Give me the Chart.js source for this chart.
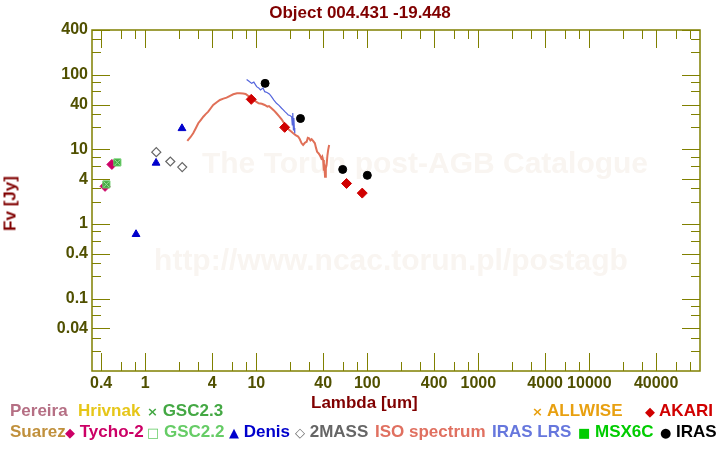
<!DOCTYPE html>
<html>
<head>
<meta charset="utf-8">
<script src="https://cdn.jsdelivr.net/npm/chart.js@4.4.1/dist/chart.umd.min.js"></script>
<style>
body { margin: 0; background: #fff; }
#wrap { position: relative; width: 720px; height: 450px; font-family: "Liberation Sans", Arial, sans-serif; font-weight: bold; }
#sed { position: absolute; left: 0; top: 0; }
.t { position: absolute; white-space: nowrap; font-size: 17px; line-height: 17px; }
.s { font-family: "DejaVu Sans", sans-serif; font-size: 13px; }
</style>
</head>
<body>
<div id="wrap">
  <canvas id="sed" width="720" height="450"></canvas>
  <div class="t" style="left:0;width:720px;text-align:center;top:4px;color:#800000">Object 004.431 -19.448</div>
  <div class="t" style="left:311px;top:394px;color:#800000">Lambda [um]</div>
  <div class="t" style="left:-18px;top:195px;width:56px;text-align:center;color:#800000;transform:rotate(-90deg)">Fv [Jy]</div>
</div>
<script>
// photometry, wavelength [um] / flux [Jy]
var tycho2 = [[0.50, 6.3], [0.434, 3.2]];
var gsc22 = [[0.56, 6.7], [0.446, 3.4]];
var gsc23 = [[0.56, 6.7], [0.446, 3.4]];
var denis = [[0.825, 0.73], [1.25, 6.6], [2.14, 19.2]];
var twomass = [[1.256, 9.2], [1.68, 6.9], [2.15, 5.8]];
var akari = [[9, 47], [18, 19.8], [65, 3.5], [90, 2.6]];
var iras = [[12, 77], [25, 26], [60, 5.4], [100, 4.5]];

// spectra
var isoSpectrum = [[2.39,13.0],[2.55,14.6],[2.70,16.5],[2.85,19.3],[3.00,22.5],[3.17,25.0],[3.33,27.5],[3.5,29.8],
  [3.69,32.1],[3.9,36.0],[4.09,39.5],[4.4,43.0],[4.70,46.1],[5.05,48.0],[5.40,49.5],[5.8,52.5],[6.20,55.0],
  [6.7,56.6],[7.12,56.6],[7.6,56.2],[8.01,55.5],[8.5,52.0],[9.07,48.5],[9.8,44.5],[10.5,41.6],[11.2,41.0],
  [11.9,39.5],[12.6,37.5],[13.0,38.2],[13.7,35.7],[14.4,33.4],[15.2,30.6],[16.0,28.0],[16.9,25.4],[17.8,22.5],
  [18.7,20.2],[19.6,18.5],[20.5,17.5],[21.5,16.5],[22.6,15.6],[23.8,14.9],[24.6,13.8],[25.6,12.1],[26.4,11.5],
  [27.4,12.3],[28.4,12.7],[29.1,14.3],[29.9,14.1],[30.7,13.2],[31.5,13.7],[32.6,12.9],[33.7,12.1],[34.5,10.5],
  [35.3,9.3],[36.3,8.9],[37.3,8.4],[38.5,7.6],[39.3,8.0],[40.0,7.2],[40.6,5.2],[41.0,6.4],[41.6,4.3],[42.3,5.6],
  [43.0,6.2],[43.7,8.3],[44.4,9.9],[45.3,11.5]];
var irasLrs = [[8.18,87],[8.6,82],[9.07,77],[9.5,80],[10.07,69.5],[10.5,67],[10.9,62.8],[11.5,66.7],[11.9,59.6],
  [12.5,58],[13.1,55.5],[13.7,51.0],[14.4,46],[15.2,41.6],[16.0,39],[16.9,35.7],[17.5,34],[18.1,32.1],[18.8,30.5],
  [19.4,29.0],[20.1,28.5],[20.8,27.5],[21.1,21.3],[21.3,30.9],[21.6,18.3],[21.8,26.4],[22.0,19.4],[22.2,16.5]];

// axes
var xMin = 0.331, xMax = 99300;
var yMin = 0.0107, yMax = 400;
var xLabelValues = [0.4, 1, 4, 10, 40, 100, 400, 1000, 4000, 10000, 40000];
var xLabelText = ['0.4', '1', '4', '10', '40', '100', '400', '1000', '4000', '10000', '40000'];
var yLabelValues = [0.04, 0.1, 0.4, 1, 4, 10, 40, 100, 400];
var yLabelText = ['0.04', '0.1', '0.4', '1', '4', '10', '40', '100', '400'];
var tickSteps = [1, 2, 3, 4, 6, 8];
var majorSteps = [1, 4];

// legend (text, colour, symbol)
var legendRows = [
  [['Pereira', '#b56f84', '', 10], ['Hrivnak', '#e6c619', '', 78], ['GSC2.3', '#44a844', '\u00d7', 147],
   ['ALLWISE', '#e8a010', '\u00d7', 532], ['AKARI', '#d00000', '\u25c6', 645]],
  [['Suarez', '#c0903c', '', 10], ['Tycho-2', '#cc0066', '\u25c6', 65], ['GSC2.2', '#66cc66', '\u25a1', 147],
   ['Denis', '#0000cc', '\u25b2', 229], ['2MASS', '#666666', '\u25c7', 295], ['ISO spectrum', '#e07060', '', 375],
   ['IRAS LRS', '#6677dd', '', 492], ['MSX6C', '#00cc00', '\u25a0', 578], ['IRAS', '#000000', '\u25cf', 660]]
];

var wrap = document.getElementById('wrap');
legendRows.forEach(function(row, r) {
  row.forEach(function(item) {
    var d = document.createElement('div');
    d.className = 't';
    d.style.left = item[3] + 'px';
    d.style.top = (r == 0 ? 402 : 423) + 'px';
    d.style.color = item[1];
    d.innerHTML = (item[2] ? '<span class="s">' + item[2] + '</span> ' : '') + item[0];
    wrap.appendChild(d);
  });
});

function pts(arr) {
  return arr.map(function(p) { return {x: p[0], y: p[1]}; });
}

function tickList(min, max) {
  var out = [];
  for (var e = -3; e <= 6; e++) {
    tickSteps.forEach(function(s) {
      var v = s * Math.pow(10, e);
      if (v >= min && v <= max) out.push({v: v, major: majorSteps.indexOf(s) >= 0});
    });
  }
  return out;
}

var frame = {
  id: 'frame',
  beforeDatasetsDraw: function(chart) {
    var ctx = chart.ctx;
    ctx.save();
    ctx.fillStyle = '#f9f5f1';
    ctx.textAlign = 'center';
    ctx.textBaseline = 'middle';
    ctx.font = 'bold 30px "Liberation Sans", Arial, sans-serif';
    ctx.fillText('The Torun post-AGB Catalogue', 425, 165);
    ctx.fillText('http://www.ncac.torun.pl/postagb', 391, 262);
    ctx.restore();
  },
  afterDraw: function(chart) {
    var ctx = chart.ctx, a = chart.chartArea;
    var x = chart.scales.x, y = chart.scales.y;
    ctx.save();
    ctx.strokeStyle = '#808000';
    ctx.lineWidth = 1.5;
    ctx.strokeRect(a.left, a.top, a.right - a.left, a.bottom - a.top);
    ctx.lineWidth = 1;
    ctx.beginPath();
    tickList(xMin, xMax).forEach(function(t) {
      var px = Math.round(x.getPixelForValue(t.v)) + 0.5;
      var len = t.major ? 18 : 9;
      ctx.moveTo(px, a.bottom); ctx.lineTo(px, a.bottom - len);
      ctx.moveTo(px, a.top); ctx.lineTo(px, a.top + len);
    });
    tickList(yMin, yMax).forEach(function(t) {
      var py = Math.round(y.getPixelForValue(t.v)) + 0.5;
      var len = t.major ? 18 : 9;
      ctx.moveTo(a.left, py); ctx.lineTo(a.left + len, py);
      ctx.moveTo(a.right, py); ctx.lineTo(a.right - len, py);
    });
    ctx.stroke();
    ctx.restore();
  }
};

var tickFont = {family: '"Liberation Sans", Arial, sans-serif', size: 16, weight: 'bold'};

var ctx = document.getElementById('sed').getContext('2d');
var sedChart = new Chart(ctx, {
  type: 'scatter',
  data: {
    datasets: [
      {label: 'GSC2.3', data: pts(gsc23), pointStyle: 'crossRot', pointRadius: 4, borderColor: '#99dd99', borderWidth: 1},
      {label: 'IRAS', data: pts(iras), pointStyle: 'circle', pointRadius: 4, backgroundColor: '#000', borderColor: '#000', borderWidth: 1},
      {label: 'AKARI', data: pts(akari), pointStyle: 'rectRot', pointRadius: 5, backgroundColor: '#d00000', borderColor: '#d00000', borderWidth: 1},
      {label: '2MASS', data: pts(twomass), pointStyle: 'rectRot', pointRadius: 4.5, backgroundColor: '#fff', borderColor: '#666666', borderWidth: 1.2},
      {label: 'Denis', data: pts(denis), pointStyle: 'triangle', pointRadius: 4.5, backgroundColor: '#0000cc', borderColor: '#0000cc', borderWidth: 1},
      {label: 'GSC2.2', data: pts(gsc22), pointStyle: 'rect', pointRadius: 5, backgroundColor: '#44aa44', borderColor: '#66cc66', borderWidth: 1},
      {label: 'Tycho-2', data: pts(tycho2), pointStyle: 'rectRot', pointRadius: 5, backgroundColor: '#cc0066', borderColor: '#cc0066', borderWidth: 1},
      {label: 'IRAS LRS', data: pts(irasLrs), showLine: true, pointRadius: 0, borderColor: '#5566dd', borderWidth: 1.2},
      {label: 'ISO spectrum', data: pts(isoSpectrum), showLine: true, pointRadius: 0, borderColor: '#e07058', borderWidth: 2}
    ]
  },
  options: {
    responsive: false,
    animation: false,
    layout: {padding: {top: 30, right: 20, left: 0, bottom: 0}},
    plugins: {legend: {display: false}, tooltip: {enabled: false}},
    scales: {
      x: {
        type: 'logarithmic', min: xMin, max: xMax, bounds: 'data',
        grid: {display: false, drawTicks: false}, border: {display: false},
        afterBuildTicks: function(s) { s.ticks = xLabelValues.map(function(v) { return {value: v}; }); },
        afterFit: function(s) { s.height = 79; },
        ticks: {autoSkip: false, maxRotation: 0, padding: 3, color: '#505000', font: tickFont,
          callback: function(v, i) { return xLabelText[i]; }}
      },
      y: {
        type: 'logarithmic', min: yMin, max: yMax, bounds: 'data',
        grid: {display: false, drawTicks: false}, border: {display: false},
        afterBuildTicks: function(s) { s.ticks = yLabelValues.map(function(v) { return {value: v}; }); },
        afterFit: function(s) { s.width = 92; },
        ticks: {autoSkip: false, padding: 4, color: '#505000', font: tickFont,
          callback: function(v, i) { return yLabelText[i]; }}
      }
    }
  },
  plugins: [frame]
});
</script>
</body>
</html>
